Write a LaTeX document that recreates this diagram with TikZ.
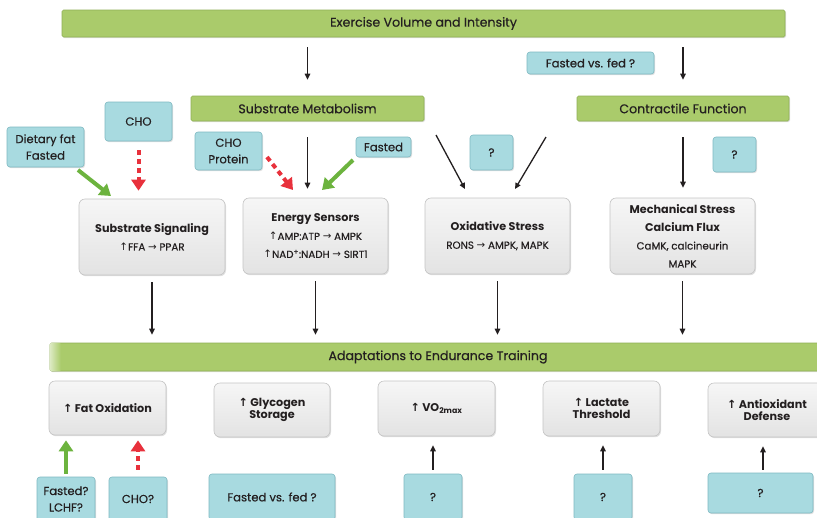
\documentclass[tikz,border=0pt]{standalone}
\usepackage{fontspec}
\setmainfont{Poppins}
\newfontfamily\medf{Poppins}[FakeBold=0.4]
\newfontfamily\sym{DejaVu Sans}
\usetikzlibrary{arrows.meta,shadows,calc}
\definecolor{gfill}{HTML}{AACB6B}
\definecolor{gline}{HTML}{8FAF55}
\definecolor{bfill}{HTML}{A8DAE0}
\definecolor{bline}{HTML}{7EB9C2}
\definecolor{grline}{HTML}{C4C4C4}
\definecolor{garrow}{HTML}{6CB33E}
\definecolor{rarrow}{HTML}{E8313C}
\definecolor{txt}{HTML}{231F20}
\newcommand{\up}{{\sym\char"2191}}
\newcommand{\ra}{{\sym\char"2192}}
\newcommand{\subf}{\medf\mdseries\fontsize{10.3}{16}\selectfont}
\begin{document}
\begin{tikzpicture}[x=1pt,y=-1pt,
  shad/.style={drop shadow={opacity=0.25,shadow xshift=1pt,shadow yshift=-1.2pt}},
  gbar/.style={shad,draw=gline,fill=gfill,rounded corners=1.5pt,line width=0.6pt,text=txt,inner sep=0pt,font=\medf\fontsize{12.6}{14}\selectfont},
  bbox/.style={shad,draw=bline,fill=bfill,rounded corners=3pt,line width=0.6pt,text=txt,inner sep=0pt,align=center,font=\medf\fontsize{11.6}{16.5}\selectfont},
  gbox/.style={shad,draw=grline,top color=gray!7,bottom color=gray!22,rounded corners=6pt,line width=0.6pt,text=txt,inner sep=0pt,align=center,font=\bfseries\fontsize{11.2}{18}\selectfont},
  abox/.style={gbox,font=\bfseries\fontsize{11.2}{12.5}\selectfont},
  blk/.style={-{Triangle[width=5.5pt,length=6pt]},line width=1.3pt,draw=txt},
  grn/.style={-{Triangle[width=14pt,length=11pt]},line width=4pt,draw=garrow},
  rdd/.style={-{Triangle[width=14pt,length=11pt]},line width=4pt,draw=rarrow,dash pattern=on 5pt off 4pt}
]
\useasboundingbox (0,0) rectangle (817,517);
\clip (0,0) rectangle (817,517);
\fill[white] (0,0) rectangle (817,517);

% green bars
\node[gbar,minimum width=723pt,minimum height=27pt] (evi) at (423.5,23.5) {Exercise Volume and Intensity};
\node[gbar,minimum width=233pt,minimum height=25pt] (sm) at (307.5,108.5) {Substrate Metabolism};
\node[gbar,minimum width=212pt,minimum height=25pt] (cf) at (683,108.5) {Contractile Function};
\node[gbar,minimum width=776pt,minimum height=28pt] (ad) at (438,357) {};
\shade[left color=gfill!45!white,right color=gfill] ($(ad.north west)+(1,1)$) rectangle ($(ad.south west)+(11,-1)$);
\node[text=txt,font=\medf\fontsize{12.6}{14}\selectfont] (adt) at (ad.center) {Adaptations to Endurance Training};

% blue boxes
\node[bbox,minimum width=127pt,minimum height=22pt] (fvf) at (590.5,63) {Fasted vs. fed ?};
\node[bbox,minimum width=67pt,minimum height=39pt] (cho) at (138.5,121.5) {CHO};
\node[bbox,minimum width=77pt,minimum height=40pt] (dff) at (45.5,147) {Dietary fat\\Fasted};
\node[bbox,minimum width=67pt,minimum height=38pt] (chop) at (228.5,151) {CHO\\Protein};
\node[bbox,minimum width=55pt,minimum height=20pt] (fst) at (383.5,147) {Fasted};
\node[bbox,minimum width=43pt,minimum height=35pt] (q1) at (491.5,152.5) {?};
\node[bbox,minimum width=43pt,minimum height=35pt] (q2) at (734.5,154.5) {?};

% gray mechanism boxes
\node[gbox,minimum width=146pt,minimum height=76pt] (ss) at (152,237) {Substrate Signaling\\ \subf \up FFA \ra{} PPAR};
\node[gbox,minimum width=145pt,minimum height=76pt] (es) at (315.5,236) {Energy Sensors\\ \subf \up AMP:ATP \ra{} AMPK\\ \subf \up NAD\textsuperscript{+}:NADH \ra{} SIRT1};
\node[gbox,minimum width=145pt,minimum height=76pt] (os) at (497.5,236) {Oxidative Stress\\ \subf RONS \ra{} AMPK, MAPK};
\node[gbox,minimum width=145pt,minimum height=76pt] (ms) at (682.5,236) {Mechanical Stress\\Calcium Flux\\ \subf CaMK, calcineurin\\ \subf MAPK};

% gray adaptation boxes
\node[abox,minimum width=117pt,minimum height=54pt] (fo) at (107.5,408) {\up{} Fat Oxidation};
\node[abox,minimum width=116pt,minimum height=54pt] (gs) at (272,410) {\up{} Glycogen\\Storage};
\node[abox,minimum width=117pt,minimum height=55pt] (vo) at (436.5,408.5) {\up{} VO\textsubscript{2max}};
\node[abox,minimum width=117pt,minimum height=55pt] (lt) at (601.5,408.5) {\up{} Lactate\\Threshold};
\node[abox,minimum width=118pt,minimum height=54pt] (ao) at (767,410) {\up{} Antioxidant\\Defense};

% bottom blue boxes
\node[bbox,minimum width=58pt,minimum height=44pt] (fl) at (66,499) {Fasted?\\LCHF?};
\node[bbox,minimum width=58pt,minimum height=44pt] (chq) at (138,499) {CHO?};
\node[bbox,minimum width=126pt,minimum height=46pt] (fvf2) at (272,497) {Fasted vs. fed ?};
\node[bbox,minimum width=58pt,minimum height=46pt] (q3) at (433,497) {?};
\node[bbox,minimum width=58pt,minimum height=46pt] (q4) at (603,497) {?};
\node[bbox,minimum width=105pt,minimum height=40pt] (q5) at (760.5,493) {?};

% top arrows
\draw[blk,shorten <=10pt,shorten >=16pt] (evi.south -| sm.north) -- (sm.north);
\draw[blk,shorten <=10pt,shorten >=16pt] (evi.south -| cf.north) -- (cf.north);
\draw[blk,shorten <=16pt,shorten >=9pt] (sm.south) -- (sm.south |- es.north);
\draw[blk,shorten <=16pt,shorten >=10pt] (cf.south) -- (cf.south |- ms.north);

% diagonal arrows to oxidative stress
\coordinate (o1s) at (436,135); \coordinate (o1e) at (465,189);
\coordinate (o2s) at (546,137); \coordinate (o2e) at (515,189);
\draw[blk] (o1s) -- (o1e);
\draw[blk] (o2s) -- (o2e);

% nutrient arrows
\coordinate (d1s) at (78,170); \coordinate (d1e) at (111,196);
\draw[grn] (d1s) -- (d1e);
\draw[rdd,shorten <=9pt,shorten >=8pt] (cho.south) -- (cho.south |- ss.north);
\coordinate (c2s) at (267,157); \coordinate (c2e) at (293,190);
\draw[rdd] (c2s) -- (c2e);
\coordinate (f2s) at (353,160); \coordinate (f2e) at (322,190);
\draw[grn] (f2s) -- (f2e);

% mechanism to adaptations
\foreach \n in {ss,es,os,ms}{
  \draw[blk,shorten <=7pt,shorten >=8pt] (\n.south) -- (\n.south |- ad.north);
}

% bottom arrows
\draw[grn,shorten <=3pt,shorten >=5pt] (fl.north) -- (fl.north |- fo.south);
\draw[rdd,shorten <=7pt,shorten >=5pt] (chq.north) -- (chq.north |- fo.south);
\draw[blk,shorten <=4pt,shorten >=9pt] (q3.north) -- (q3.north |- vo.south);
\draw[blk,shorten <=4pt,shorten >=9pt] (q4.north) -- (q4.north |- lt.south);
\draw[blk,shorten <=3pt,shorten >=9pt] ($(q5.north)+(2.5,0)$) -- ($(q5.north |- ao.south)+(2.5,0)$);
\end{tikzpicture}
\end{document}
